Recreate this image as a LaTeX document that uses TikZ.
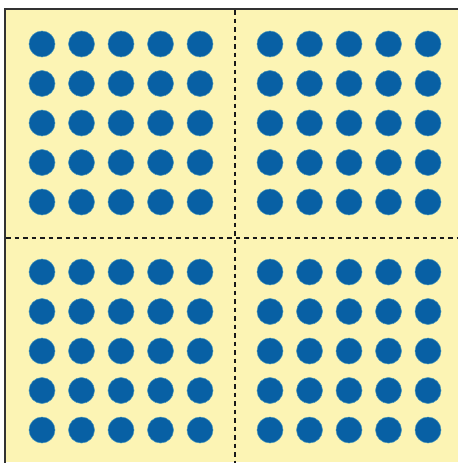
\documentclass[tikz,border=0pt]{standalone}
\definecolor{paper}{RGB}{252,244,180}
\definecolor{dotblue}{RGB}{8,96,164}
\definecolor{rim}{RGB}{120,190,200}
\tikzset{
  dotmark/.style={fill=dotblue,draw=rim!60!dotblue,line width=0.5pt},
  divider/.style={draw=black!90,line width=2pt,dash pattern=on 4.5pt off 4pt},
  frame/.style={draw=black!80,line width=2pt}
}
\begin{document}
\begin{tikzpicture}[x=1pt,y=-1pt]
\useasboundingbox (0,0) rectangle (458,463);
\fill[paper] (5,9) rectangle (458,462);
\draw[frame] (5,463) -- (5,9) -- (458,9);
\coordinate (vt) at (235,10);
\coordinate (vb) at (235,463);
\coordinate (hl) at (6,238);
\coordinate (hr) at (458,238);
\draw[divider] (vt) -- (vb);
\draw[divider] (hl) -- (hr);
\foreach \x in {42,81.5,121,160.5,200,270,309.5,349,388.5,428}{
  \foreach \y in {44,83.5,123,162.5,202,272,311.5,351,390.5,430}{
    \fill[dotmark] (\x,\y) circle[radius=13];
  }
}
\end{tikzpicture}
\end{document}
